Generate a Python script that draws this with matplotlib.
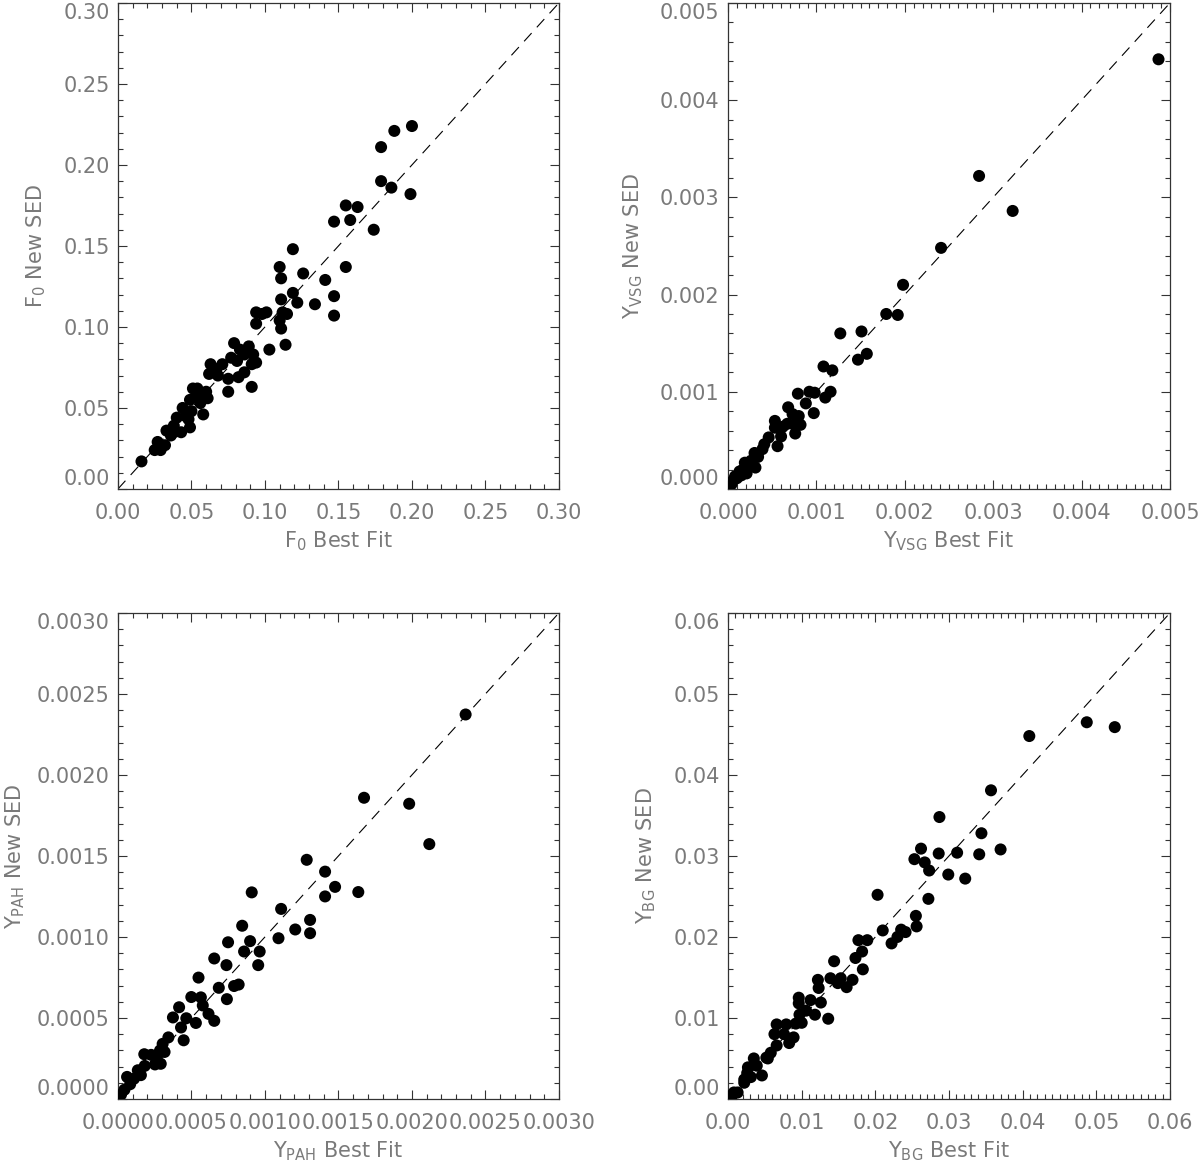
# Best fit vs new SED parameters, four panels (F0, Y_VSG, Y_PAH, Y_BG)
import numpy as np
import matplotlib.pyplot as plt
from matplotlib.ticker import MultipleLocator, FormatStrFormatter

# F0
f0_best = [0.016, 0.025, 0.027, 0.029, 0.032, 0.028, 0.033, 0.036, 0.038, 0.040,
           0.043, 0.044, 0.046, 0.048, 0.049, 0.049, 0.051, 0.053, 0.054, 0.056,
           0.058, 0.060, 0.061, 0.062, 0.063, 0.068, 0.071, 0.075, 0.075, 0.077,
           0.079, 0.081, 0.082, 0.083, 0.086, 0.089, 0.091, 0.092, 0.091, 0.094,
           0.094, 0.094, 0.098, 0.101, 0.103, 0.110, 0.110, 0.111, 0.111, 0.111,
           0.112, 0.114, 0.115, 0.119, 0.119, 0.122, 0.126, 0.134, 0.141, 0.147,
           0.147, 0.147, 0.155, 0.155, 0.158, 0.163, 0.174, 0.179, 0.179, 0.186,
           0.188, 0.199, 0.200, 0.050, 0.055, 0.038, 0.067, 0.086]
f0_new = [0.017, 0.024, 0.029, 0.024, 0.027, 0.026, 0.036, 0.033, 0.039, 0.044,
          0.035, 0.050, 0.045, 0.043, 0.038, 0.055, 0.062, 0.057, 0.062, 0.053,
          0.046, 0.060, 0.056, 0.071, 0.077, 0.070, 0.077, 0.060, 0.068, 0.081,
          0.090, 0.079, 0.069, 0.086, 0.072, 0.088, 0.077, 0.083, 0.063, 0.078,
          0.102, 0.109, 0.108, 0.109, 0.086, 0.104, 0.137, 0.130, 0.117, 0.099,
          0.109, 0.089, 0.108, 0.148, 0.121, 0.115, 0.133, 0.114, 0.129, 0.165,
          0.119, 0.107, 0.175, 0.137, 0.166, 0.174, 0.160, 0.211, 0.190, 0.186,
          0.221, 0.182, 0.224, 0.048, 0.059, 0.035, 0.074, 0.083]

# Y_VSG
vsg_best = [0.00487, 0.00284, 0.00322, 0.00241, 0.00198, 0.00179, 0.00192, 0.00127,
            0.00151, 0.00147, 0.00157, 0.00108, 0.00118, 0.00110, 0.00116, 0.00079,
            0.00092, 0.00098, 0.00088, 0.00097, 0.00068, 0.00073, 0.00080, 0.00075,
            0.00082, 0.00076, 0.00053, 0.00053, 0.00060, 0.00056, 0.00046, 0.00041,
            0.00039, 0.00030, 0.00031, 0.00026, 0.00019, 0.00017, 0.00021, 0.00013,
            0.00008, 0.00006, 0.00004, 0.00002, 0.00001, 0.00010, 0.00015, 0.00023,
            0.00034, 0.00062, 0.00067]
vsg_new = [0.00442, 0.00322, 0.00286, 0.00248, 0.00210, 0.00180, 0.00179, 0.00160,
           0.00162, 0.00133, 0.00139, 0.00126, 0.00122, 0.00094, 0.00100, 0.00098,
           0.00100, 0.00099, 0.00088, 0.00078, 0.00084, 0.00077, 0.00075, 0.00066,
           0.00066, 0.00057, 0.00070, 0.00063, 0.00054, 0.00044, 0.00053, 0.00046,
           0.00041, 0.00037, 0.00022, 0.00029, 0.00027, 0.00020, 0.00016, 0.00018,
           0.00013, 0.00009, 0.00005, 0.00003, 0.00001, 0.00011, 0.00014, 0.00025,
           0.00033, 0.00064, 0.00067]

# Y_PAH
pah_best = [0.002365, 0.001674, 0.001981, 0.002118, 0.001635, 0.001284, 0.001409, 0.001477,
            0.001409, 0.001307, 0.001307, 0.001206, 0.001110, 0.001092, 0.000910, 0.000845,
            0.000899, 0.000858, 0.000964, 0.000954, 0.000749, 0.000738, 0.000655, 0.000686,
            0.000790, 0.000821, 0.000741, 0.000548, 0.000499, 0.000564, 0.000577, 0.000616,
            0.000655, 0.000530, 0.000416, 0.000465, 0.000429, 0.000447, 0.000374, 0.000343,
            0.000304, 0.000286, 0.000265, 0.000252, 0.000291, 0.000179, 0.000182, 0.000135,
            0.000156, 0.000109, 0.000062, 0.000083, 0.000044, 0.000021, 0.000005, 0.000226,
            0.000317]
pah_new = [0.002373, 0.001859, 0.001822, 0.001573, 0.001277, 0.001476, 0.001403, 0.001309,
           0.001250, 0.001105, 0.001023, 0.001046, 0.001173, 0.000992, 0.001275, 0.001069,
           0.000974, 0.000910, 0.000910, 0.000826, 0.000967, 0.000826, 0.000867, 0.000686,
           0.000697, 0.000706, 0.000616, 0.000749, 0.000629, 0.000627, 0.000577, 0.000525,
           0.000482, 0.000469, 0.000566, 0.000498, 0.000441, 0.000362, 0.000503, 0.000380,
           0.000340, 0.000299, 0.000260, 0.000213, 0.000217, 0.000276, 0.000204, 0.000177,
           0.000147, 0.000125, 0.000136, 0.000091, 0.000057, 0.000027, 0.000011, 0.000272,
           0.000290]

# Y_BG
bg_best = [0.0525, 0.0487, 0.0409, 0.0357, 0.0344, 0.0287, 0.0370, 0.0341, 0.0311, 0.0286,
           0.0322, 0.0299, 0.0262, 0.0253, 0.0267, 0.0273, 0.0272, 0.0203, 0.0255, 0.0256,
           0.0210, 0.0222, 0.0230, 0.0235, 0.0241, 0.0177, 0.0189, 0.0182, 0.0173, 0.0183,
           0.0144, 0.0139, 0.0149, 0.0153, 0.0161, 0.0169, 0.0136, 0.0122, 0.0123, 0.0112,
           0.0126, 0.0118, 0.0106, 0.0096, 0.0096, 0.0097, 0.0100, 0.0092, 0.0089, 0.0079,
           0.0083, 0.0076, 0.0066, 0.0063, 0.0066, 0.0058, 0.0052, 0.0054, 0.0035, 0.0039,
           0.0046, 0.0027, 0.0026, 0.0031, 0.0022, 0.0022, 0.0013, 0.0006, 0.0008]
bg_new = [0.0459, 0.0465, 0.0448, 0.0381, 0.0328, 0.0348, 0.0308, 0.0302, 0.0304, 0.0303,
          0.0272, 0.0277, 0.0309, 0.0296, 0.0292, 0.0282, 0.0247, 0.0252, 0.0226, 0.0213,
          0.0208, 0.0192, 0.0200, 0.0209, 0.0206, 0.0196, 0.0196, 0.0182, 0.0174, 0.0160,
          0.0170, 0.0149, 0.0143, 0.0149, 0.0138, 0.0147, 0.0099, 0.0147, 0.0137, 0.0122,
          0.0119, 0.0104, 0.0109, 0.0125, 0.0118, 0.0104, 0.0094, 0.0093, 0.0076, 0.0092,
          0.0069, 0.0080, 0.0092, 0.0080, 0.0066, 0.0057, 0.0051, 0.0050, 0.0050, 0.0041,
          0.0029, 0.0039, 0.0032, 0.0027, 0.0024, 0.0020, 0.0008, 0.0005, 0.0008]

panels = [
    # data x, data y, limit, major, minor x, minor y, fmt, symbol, subscript,
    # axes position, ylabel x
    (f0_best, f0_new, 0.30, 0.05, 0.01, 0.01, '%.2f', 'F', '0',
     [0.0983, 0.5803, 0.3675, 0.4172], -0.159),
    (vsg_best, vsg_new, 0.005, 0.001, 0.0001, 0.0002, '%.3f', 'Y', 'VSG',
     [0.6067, 0.5803, 0.3683, 0.4172], -0.188),
    (pah_best, pah_new, 0.0030, 0.0005, 0.0001, 0.0001, '%.4f', 'Y', 'PAH',
     [0.0983, 0.0567, 0.3675, 0.4172], -0.207),
    (bg_best, bg_new, 0.06, 0.01, 0.001, 0.002, '%.2f', 'Y', 'BG',
     [0.6067, 0.0567, 0.3683, 0.4172], -0.158),
]

grey = '#7a7a7a'
fontsize = 15

fig = plt.figure(figsize=(12, 11.65), dpi=100)
axes = []

for (xb, yn, lim, major, minx, miny, fmt, sym, sub, pos, ylx) in panels:
    ax = fig.add_axes(pos)
    ax.plot([0, lim], [0, lim], color='black', linewidth=0.8, dashes=(10, 7))
    ax.scatter(xb, yn, s=75, color='black', edgecolors='none', zorder=3)
    ax.set_xlim(0, lim)
    ax.set_ylim(0, lim)

    ax.xaxis.set_major_locator(MultipleLocator(major))
    ax.yaxis.set_major_locator(MultipleLocator(major))
    ax.xaxis.set_minor_locator(MultipleLocator(minx))
    ax.yaxis.set_minor_locator(MultipleLocator(miny))
    ax.xaxis.set_major_formatter(FormatStrFormatter(fmt))
    ax.yaxis.set_major_formatter(FormatStrFormatter(fmt))

    ax.tick_params(which='both', direction='in', top=True, right=True,
                   color='#333333', width=0.8)
    ax.tick_params(which='major', length=6.5, labelsize=fontsize,
                   labelcolor=grey)
    ax.tick_params(which='minor', length=3.6)
    ax.tick_params(axis='x', which='major', pad=10)
    ax.tick_params(axis='y', which='major', pad=6)
    for side in ax.spines.values():
        side.set_color('#333333')
        side.set_linewidth(0.9)

    ax.set_xlabel(sym + r'$_{\rm ' + sub + '}$ Best Fit', fontsize=fontsize,
                  color=grey)
    ax.set_ylabel(sym + r'$_{\rm ' + sub + '}$ New SED', fontsize=fontsize,
                  color=grey)
    ax.xaxis.set_label_coords(0.5, -0.084)
    ax.yaxis.set_label_coords(ylx, 0.5)
    axes.append((ax, lim))

# keep the end labels of the y axis inside the box like the original
fig.canvas.draw()
for ax, lim in axes:
    for tick in ax.yaxis.get_major_ticks():
        yval = tick.get_loc()
        if abs(yval - lim) < lim * 1e-3:
            tick.label1.set_verticalalignment('top')
        elif abs(yval) < lim * 1e-3:
            tick.label1.set_verticalalignment('bottom')

fig.savefig('out.png', dpi=100)
